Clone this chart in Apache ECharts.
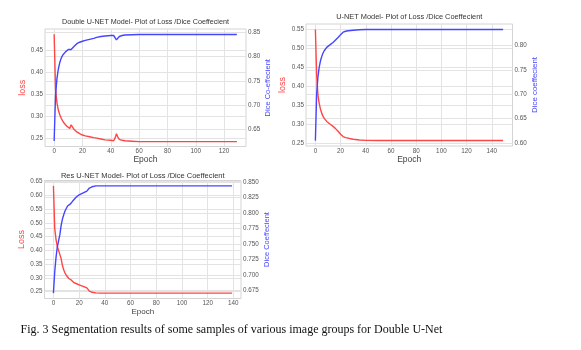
<!DOCTYPE html>
<html><head><meta charset="utf-8">
<script src="https://cdn.jsdelivr.net/npm/echarts@6/dist/echarts.min.js"></script>
<style>html,body{margin:0;padding:0;background:#fff}#c{width:581px;height:350px}</style>
</head><body><div id="c"></div>
<script>
// ---- Double U-NET ----
const epochs1 = [0,1,2,3,4,5,6,7,8,9,10,11,12,13,14,15,16,18,20,22,25,28,30,33,36,40,42,43,44,45,46,48,50,55,60,129];
const loss1 = [0.485,0.36,0.33,0.313,0.303,0.295,0.289,0.284,0.28,0.277,0.274,0.272,0.28,0.275,0.27,0.267,0.264,0.26,0.257,0.255,0.253,0.251,0.25,0.248,0.246,0.245,0.244,0.25,0.26,0.252,0.247,0.245,0.244,0.243,0.242,0.242];
const dice1 = [0.625,0.72,0.755,0.775,0.788,0.797,0.803,0.807,0.81,0.813,0.815,0.817,0.815,0.818,0.821,0.824,0.827,0.83,0.832,0.834,0.836,0.838,0.84,0.842,0.843,0.844,0.844,0.84,0.835,0.838,0.842,0.844,0.845,0.8455,0.846,0.846];
// ---- U-NET ----
const epochs2 = [0,1,2,3,4,5,6,7,8,9,10,12,14,16,18,20,22,24,26,28,30,35,40,50,149];
const loss2 = [0.55,0.43,0.378,0.355,0.34,0.329,0.321,0.315,0.31,0.307,0.304,0.299,0.294,0.288,0.281,0.273,0.267,0.264,0.263,0.261,0.26,0.258,0.257,0.2565,0.2565];
const dice2 = [0.605,0.70,0.735,0.755,0.768,0.777,0.784,0.789,0.793,0.796,0.798,0.802,0.806,0.811,0.816,0.822,0.827,0.829,0.83,0.8305,0.831,0.832,0.8325,0.8325,0.8325];
// ---- Res U-NET ----
const epochs3 = [0,1,2,3,4,5,6,7,8,9,10,11,12,13,14,15,16,18,20,22,24,26,27,28,30,33,36,50,139];
const loss3 = [0.634,0.48,0.44,0.415,0.40,0.395,0.37,0.345,0.33,0.318,0.31,0.303,0.298,0.293,0.292,0.287,0.283,0.279,0.275,0.271,0.268,0.264,0.257,0.252,0.248,0.246,0.245,0.245,0.245];
const dice3 = [0.671,0.705,0.728,0.745,0.755,0.765,0.78,0.79,0.797,0.803,0.807,0.811,0.814,0.814,0.813,0.819,0.822,0.826,0.829,0.831,0.833,0.835,0.838,0.84,0.842,0.8435,0.8435,0.8435,0.8435];
// ---- tick labels ----
const xTicks1 = [0,20,40,60,80,100,120];
const xTicks2 = [0,20,40,60,80,100,120,140];
const xTicks3 = [0,20,40,60,80,100,120,140];
const lossTicks1 = [0.25,0.30,0.35,0.40,0.45];
const diceTicks1 = [0.65,0.70,0.75,0.80,0.85];
const lossTicks2 = [0.25,0.30,0.35,0.40,0.45,0.50,0.55];
const diceTicks2 = [0.60,0.65,0.70,0.75,0.80];
const lossTicks3 = [0.25,0.30,0.35,0.40,0.45,0.50,0.55,0.60,0.65];
const diceTicks3 = [0.675,0.700,0.725,0.750,0.775,0.800,0.825,0.850];
const titles = ['Double U-NET Model- Plot of Loss /Dice Coeffecient','U-NET Model- Plot of Loss /Dice Coeffecient','Res U-NET Model- Plot of Loss /Dice Coeffecient'];
const lossNames = ['loss','loss','Loss'];
const diceNames = ['Dice Co-effecient','Dice coeffecient','Dice Coeffecient'];
const caption = 'Fig. 3 Segmentation results of some samples of various image groups for Double U-Net';

const FONT = 'Liberation Sans';
const RED = '#ff4545', BLUE = '#4545ff';
const grids = [
  {left:45, top:29, width:201, height:117.5},
  {left:306, top:24, width:206.5, height:122},
  {left:44.5, top:180.5, width:196.5, height:118}
];
const xr = [[-6.45,135.45],[-7.45,156.45],[-6.95,145.95]];
const lr = [[0.231,0.497],[0.242,0.5647],[0.2255,0.6535]];
const dr = [[0.6135,0.8575],[0.594,0.8438],[0.6623,0.8521]];
const xt = [xTicks1,xTicks2,xTicks3];
const lt = [lossTicks1,lossTicks2,lossTicks3];
const dt = [diceTicks1,diceTicks2,diceTicks3];
const ep = [epochs1,epochs2,epochs3];
const ls = [loss1,loss2,loss3];
const ds = [dice1,dice2,dice3];
const epochFont = [8.5,8.5,8];
const epochGap = [9,9,8.5];
const lossGap = [17.5,18.5,17];
const diceGap = [17,17.5,20.5];
const titleFont = [7.2,7.4,7.5];
const titleTop = [18.5,13,171.5];

const gridLine = {show:true, lineStyle:{color:'#e3e3e3', width:1}};
const option = {
  animation:false,
  backgroundColor:'#fff',
  grid: grids.map(g => Object.assign({show:true, borderColor:'#d4d4d4', borderWidth:1, backgroundColor:'#fff'}, g)),
  title: titles.map((t,i) => ({
    text:t, left: grids[i].left + grids[i].width/2, top: titleTop[i], textAlign:'center',
    textStyle:{fontFamily:FONT, fontSize:titleFont[i], fontWeight:'normal', color:'#333'}, padding:0
  })).concat([{
    text: caption, left: 20.5, top: 324, padding:0,
    textStyle:{fontFamily:'Liberation Serif', fontSize:12, fontWeight:'normal', color:'#111'}
  }]),
  xAxis: [0,1,2].map(i => ({
    type:'value', gridIndex:i, min:xr[i][0], max:xr[i][1],
    name:'Epoch', nameLocation:'middle', nameGap:epochGap[i],
    nameTextStyle:{fontFamily:FONT, fontSize:epochFont[i], color:'#444'},
    axisLine:{show:false}, axisTick:{show:false, customValues:xt[i]},
    axisLabel:{customValues:xt[i], fontFamily:FONT, fontSize:6.3, color:'#555', margin:2},
    splitLine:gridLine
  })),
  yAxis: [].concat(...[0,1,2].map(i => [
    {type:'value', gridIndex:i, position:'left', min:lr[i][0], max:lr[i][1],
     name:lossNames[i], nameLocation:'middle', nameGap:lossGap[i], nameRotate:90,
     nameTextStyle:{fontFamily:FONT, fontSize:9, color:RED},
     axisLine:{show:false}, axisTick:{show:false, customValues:lt[i]},
     axisLabel:{customValues:lt[i], formatter:v=>v.toFixed(2), fontFamily:FONT, fontSize:6.3, color:'#555', margin:2},
     splitLine:gridLine},
    {type:'value', gridIndex:i, position:'right', min:dr[i][0], max:dr[i][1],
     name:diceNames[i], nameLocation:'middle', nameGap:diceGap[i], nameRotate:90,
     nameTextStyle:{fontFamily:FONT, fontSize:i===1?7.9:7.5, color:BLUE},
     axisLine:{show:false}, axisTick:{show:false, customValues:dt[i]},
     axisLabel:{customValues:dt[i], formatter:v=>v.toFixed(i===2?3:2), fontFamily:FONT, fontSize:6.3, color:'#555', margin:2},
     splitLine:gridLine}
  ])),
  series: [].concat(...[0,1,2].map(i => [
    {type:'line', xAxisIndex:i, yAxisIndex:2*i, data:ep[i].map((e,k)=>[e,ls[i][k]]),
     showSymbol:false, symbol:'none', lineStyle:{color:RED, width:1.4}, itemStyle:{color:RED}, z:2},
    {type:'line', xAxisIndex:i, yAxisIndex:2*i+1, data:ep[i].map((e,k)=>[e,ds[i][k]]),
     showSymbol:false, symbol:'none', lineStyle:{color:BLUE, width:1.4}, itemStyle:{color:BLUE}, z:3}
  ]))
};
const chart = echarts.init(document.getElementById('c'), null, {renderer:'canvas'});
chart.setOption(option);
</script></body></html>
